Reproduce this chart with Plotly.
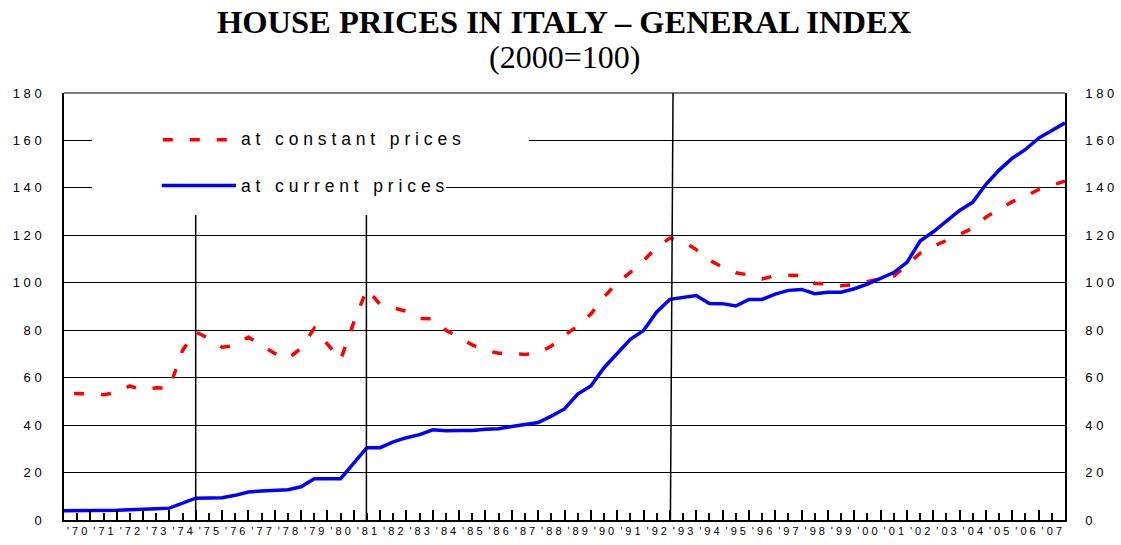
import plotly.graph_objects as go

# half-year observations, 1970 H1 .. 2008
periods = [1970 + 0.5 * i for i in range(77)]

current_prices = [
    3.9, 3.9, 4.0, 4.0, 4.1, 4.3, 4.4, 4.7, 5.0, 7.2,
    9.2, 9.3, 9.4, 10.4, 11.8, 12.2, 12.5, 12.8, 14.0, 17.4,
    17.4, 17.4, 24.0, 30.5, 30.5, 32.9, 34.7, 36.0, 38.0, 37.6,
    37.7, 37.7, 38.3, 38.5, 39.4, 40.4, 41.1, 43.8, 46.8, 53.1,
    56.5, 64.2, 70.0, 76.2, 79.9, 87.7, 93.0, 93.9, 94.6, 91.3,
    91.2, 90.2, 93.0, 93.0, 95.2, 96.8, 97.2, 95.4, 96.0, 96.0,
    97.5, 99.4, 101.8, 104.3, 108.6, 117.6, 121.5, 126.0, 130.5, 134.0,
    141.5, 147.5, 152.5, 156.2, 161.0, 164.2, 167.4,
]

constant_prices = [
    53.4, 53.4, 53.2, 52.8, 53.8, 56.5, 54.8, 55.7, 55.6, 71.5,
    79.3, 76.5, 72.8, 73.5, 77.1, 73.6, 70.2, 67.9, 72.5, 80.8,
    74.0, 67.5, 83.3, 97.3, 90.9, 89.5, 88.0, 85.0, 84.8, 80.0,
    77.0, 73.8, 71.5, 70.3, 70.1, 69.8, 70.4, 73.3, 77.8, 81.8,
    86.8, 94.0, 100.0, 104.4, 109.3, 115.0, 118.8, 117.4, 114.0, 109.5,
    106.6, 104.2, 103.3, 101.6, 103.0, 103.2, 103.0, 99.8, 99.4, 98.7,
    99.3, 100.4, 101.6, 102.8, 107.5, 112.5, 115.3, 118.0, 120.3, 123.0,
    127.7, 131.0, 134.2, 136.5, 139.3, 141.2, 142.8,
]

years = list(range(1970, 2008))
year_labels = ["'" + str(y)[2:] for y in years]
y_ticks = list(range(0, 181, 20))

NB = "\u00a0"


def spaced(s):
    # wide character spacing like the original chart
    return (NB * 3).join(NB.join(w) for w in s.split(" "))


SANS = "Liberation Sans, Arial, sans-serif"
SERIF = "Liberation Serif, Times New Roman, serif"
AXIS_FONT = dict(family=SANS, size=13, color="black")

fig = go.Figure()

fig.add_trace(go.Scatter(
    x=periods, y=constant_prices, mode="lines",
    line=dict(color="#FF0000", width=3.5, dash="0px,10px,10px,7px"),
    xaxis="x", yaxis="y", hoverinfo="skip",
))
fig.add_trace(go.Scatter(
    x=periods, y=current_prices, mode="lines",
    line=dict(color="#0000FF", width=3.5),
    xaxis="x2", yaxis="y2", hoverinfo="skip",
))

# white patches behind the legend (they hide the grid lines there)
legend_boxes = [(1971.06, 1987.65, 150, 170), (1971.06, 1984.5, 130, 150)]
for x0, x1, y0, y1 in legend_boxes:
    fig.add_shape(type="rect", xref="x", yref="y", x0=x0, x1=x1, y0=y0, y1=y1,
                  fillcolor="white", line=dict(width=0), layer="between")

# legend samples
fig.add_shape(type="line", xref="x", yref="y", x0=1973.75, x1=1976.2, y0=160.3, y1=160.3,
              line=dict(color="#FF0000", width=3.5, dash="10px,17px"))
fig.add_shape(type="line", xref="x", yref="y", x0=1973.71, x1=1976.53, y0=141, y1=141,
              line=dict(color="#0000FF", width=3.5))
fig.add_annotation(x=1976.65, y=160.5, xref="x", yref="y", xanchor="left", yanchor="middle",
                   text=spaced("at constant prices"), showarrow=False,
                   font=dict(family=SANS, size=17.5, color="black"))
fig.add_annotation(x=1976.65, y=141, xref="x", yref="y", xanchor="left", yanchor="middle",
                   text=spaced("at current prices"), showarrow=False,
                   font=dict(family=SANS, size=17.5, color="black"))

# vertical markers
for x0, x1, y1 in [(1975.0, 1975.0, 128.6), (1981.48, 1981.48, 128.6), (1993.02, 1993.12, 180)]:
    fig.add_shape(type="line", xref="x", yref="y", x0=x0, x1=x1, y0=0, y1=y1,
                  line=dict(color="black", width=1.5), layer="above")

# top frame line
fig.add_shape(type="line", xref="paper", yref="paper", x0=0, x1=1, y0=1, y1=1,
              line=dict(color="black", width=1.2))

# title
fig.add_annotation(x=0.5, y=1.166, xref="paper", yref="paper", yanchor="middle",
                   text="<b>HOUSE PRICES IN ITALY – GENERAL INDEX</b>", showarrow=False,
                   font=dict(family=SERIF, size=32.5, color="black"))
fig.add_annotation(x=0.5, y=1.085, xref="paper", yref="paper", yanchor="middle",
                   text="(2000=100)", showarrow=False,
                   font=dict(family=SERIF, size=32, color="black"))

fig.update_layout(
    width=1121, height=545,
    margin=dict(l=64, r=56, t=93, b=25),
    paper_bgcolor="white", plot_bgcolor="white",
    showlegend=False,
    xaxis=dict(
        range=[1970, 2008], tickmode="array", automargin=False,
        tickvals=[y + 0.5 for y in years], ticktext=[spaced(l) for l in year_labels],
        ticks="inside", ticklen=7, tickwidth=2, tickcolor="black",
        showgrid=False, zeroline=False,
        showline=True, linecolor="black", linewidth=2,
        tickfont=dict(family=SANS, size=11, color="black"),
    ),
    xaxis2=dict(
        range=[1970, 2008], overlaying="x", anchor="y2", side="bottom", automargin=False,
        tickmode="array", tickvals=years[1:],
        ticks="inside", ticklen=10, tickwidth=2, tickcolor="black",
        showticklabels=False, showgrid=False, zeroline=False, showline=False,
    ),
    yaxis=dict(
        range=[0, 180], tickmode="array", tickvals=y_ticks, automargin=False,
        ticktext=[spaced(str(v)) for v in y_ticks],
        ticks="", ticklabelstandoff=18,
        showgrid=True, gridcolor="black", gridwidth=1, zeroline=False,
        showline=True, linecolor="black", linewidth=1.5,
        tickfont=AXIS_FONT,
    ),
    yaxis2=dict(
        range=[0, 180], overlaying="y", anchor="x2", side="right", automargin=False,
        tickmode="array", tickvals=y_ticks,
        ticktext=[spaced(str(v)) for v in y_ticks],
        ticks="", ticklabelstandoff=16,
        showgrid=False, zeroline=False,
        showline=True, linecolor="black", linewidth=1.5,
        tickfont=AXIS_FONT,
    ),
)

# drop the browser's default 8px page margin so the figure sits at the window corner
fig.write_html("out.html", config={"displayModeBar": False},
               post_script="document.body.style.margin='0';")
